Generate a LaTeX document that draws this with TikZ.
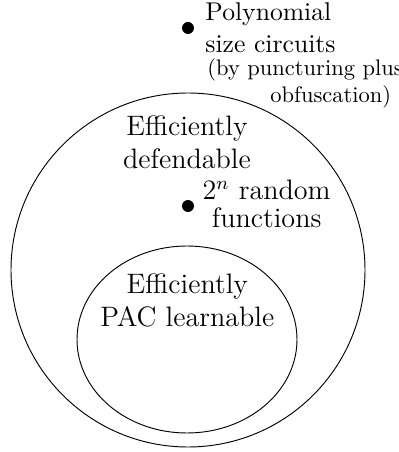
\documentclass[tikz,border=0pt]{standalone}
\begin{document}
\begin{tikzpicture}[dot/.style={circle, fill=black, inner sep=0pt, minimum size=0.18cm},
	biglbl/.style={inner sep=0pt, align=center, font=\large},
	toplbl/.style={inner sep=0pt, align=left, font=\fontsize{10.95}{13.6}\selectfont},
	notelbl/.style={inner sep=0pt, anchor=base west, font=\fontsize{9.6}{11.5}\selectfont}]
	\useasboundingbox (0, 0) rectangle (5.985, 6.78);
	
	\draw (2.82, 2.73) circle (2.655);
	\draw (2.805, 1.6875) ellipse (1.65 and 1.4025);
	
	\node[biglbl] (defend) at (2.805, 4.65) {Efficiently\\defendable};
	\node[biglbl] (pac) at (2.81, 2.27) {Efficiently\\PAC learnable};
	
	\node[dot] (dotrand) at (2.82, 3.69) {};
	\node[biglbl] (rand) at (4.0, 3.72) {$2^n$ random\\[-2pt]functions};
	
	\node[dot] (dotpoly) at (2.82, 6.36) {};
	\node[toplbl, anchor=west] (poly) at (3.075, 6.36) {Polynomial\\size circuits};
	\node[notelbl] (note) at (3.105, 5.645) {(by puncturing plus};
	\node[notelbl] (noteb) at (4.05, 5.235) {obfuscation)};
%	\draw (dotpoly) -- (poly);
\end{tikzpicture}
\end{document}
